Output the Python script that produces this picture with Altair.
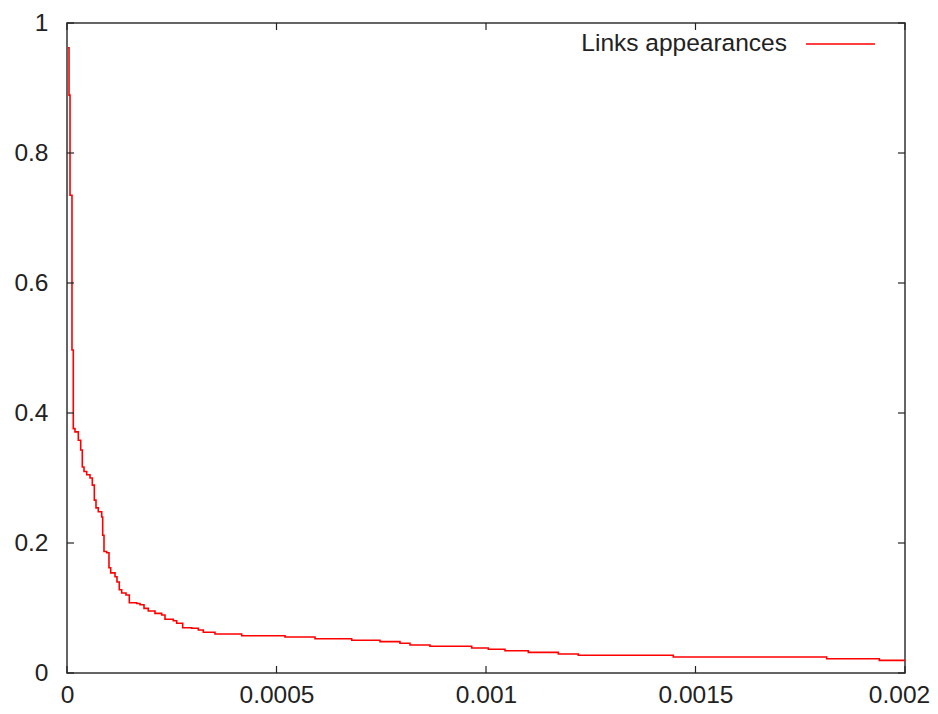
import altair as alt
import pandas as pd

series_name = ["Links appearances"]
x_ticks = [0, 0.0005, 0.001, 0.0015, 0.002]
y_ticks = [0, 0.2, 0.4, 0.6, 0.8, 1]

x_vals = [
    2.4e-6, 4.8e-6, 7.2e-6, 1.19e-5, 1.5e-5, 1.91e-5, 2.70e-5, 3.27e-5, 3.65e-5,
    4.06e-5, 4.70e-5, 5.49e-5, 6.04e-5, 6.52e-5, 6.92e-5, 7.47e-5, 8.28e-5,
    8.52e-5, 8.83e-5, 9.47e-5, 1.002e-4, 1.043e-4, 1.146e-4, 1.193e-4, 1.248e-4,
    1.305e-4, 1.408e-4, 1.487e-4, 1.663e-4, 1.742e-4, 1.838e-4, 1.940e-4,
    2.100e-4, 2.260e-4, 2.339e-4, 2.537e-4, 2.618e-4, 2.761e-4, 2.976e-4,
    3.134e-4, 3.253e-4, 3.532e-4, 4.169e-4, 5.203e-4, 5.919e-4, 6.795e-4,
    7.470e-4, 7.947e-4, 8.186e-4, 8.663e-4, 9.658e-4, 1.0055e-3, 1.0453e-3,
    1.1010e-3, 1.1726e-3, 1.2203e-3, 1.4470e-3, 1.8131e-3, 1.9387e-3, 2.0e-3,
]
y_vals = [
    0.962, 0.889, 0.735, 0.497, 0.376, 0.371, 0.358, 0.343, 0.317,
    0.310, 0.305, 0.300, 0.289, 0.266, 0.254, 0.248, 0.240,
    0.212, 0.187, 0.185, 0.162, 0.154, 0.148, 0.140, 0.128,
    0.123, 0.120, 0.108, 0.107, 0.105, 0.0995, 0.0954,
    0.0918, 0.0892, 0.0826, 0.0805, 0.0765, 0.0697, 0.0688,
    0.0662, 0.0626, 0.0600, 0.0574, 0.0554, 0.0528, 0.0503,
    0.0482, 0.0457, 0.0431, 0.0411, 0.0385, 0.0365, 0.0343,
    0.0318, 0.0292, 0.0272, 0.0246, 0.0220, 0.0195, 0.0195,
]

FONT = "Liberation Sans"
TXT = "#222222"
W, H = 838, 650

df = pd.DataFrame({"x": x_vals, "y": y_vals})
xs = alt.Scale(domain=[0, 0.002], nice=False, zero=False)
ys = alt.Scale(domain=[0, 1], nice=False, zero=False)

ax_x = alt.Axis(
    values=x_ticks, format="~g", title=None, grid=False, ticks=False,
    domain=False, labelFlush=False, labelPadding=10, labelFontSize=24.5,
    labelFont=FONT, labelColor=TXT,
    labelOffset={"condition": {"test": "datum.value >= 0.0019", "value": -6}, "value": 0},
)
ax_y = alt.Axis(
    values=y_ticks, format="~g", title=None, grid=False, ticks=False,
    domain=False, labelFlush=False, labelPadding=19, labelFontSize=24.5,
    labelFont=FONT, labelColor=TXT)

line = alt.Chart(df).mark_line(
    color="#ff0000", strokeWidth=1.6, interpolate="step-after", clip=True
).encode(
    x=alt.X("x:Q", scale=xs, axis=ax_x),
    y=alt.Y("y:Q", scale=ys, axis=ax_y),
)

ydf = pd.DataFrame({"v": y_ticks})
xdf = pd.DataFrame({"v": x_ticks})
tk = dict(color=TXT, strokeWidth=1.2)

left_t = alt.Chart(ydf).mark_rule(**tk).encode(
    y=alt.Y("v:Q", scale=ys, axis=ax_y), x=alt.value(0), x2=alt.value(7))
right_t = alt.Chart(ydf).mark_rule(**tk).encode(
    y=alt.Y("v:Q", scale=ys, axis=ax_y), x=alt.value(W - 7), x2=alt.value(W))
bottom_t = alt.Chart(xdf).mark_rule(**tk).encode(
    x=alt.X("v:Q", scale=xs, axis=ax_x), y=alt.value(H - 7), y2=alt.value(H))
top_t = alt.Chart(xdf).mark_rule(**tk).encode(
    x=alt.X("v:Q", scale=xs, axis=ax_x), y=alt.value(0), y2=alt.value(7))

ldf = pd.DataFrame({"name": series_name})
leg_text = alt.Chart(ldf).mark_text(
    align="right", baseline="middle", fontSize=24.5, font=FONT, color=TXT
).encode(text="name:N", x=alt.value(720), y=alt.value(21))
leg_line = alt.Chart(ldf).mark_rule(color="#ff0000", strokeWidth=1.5).encode(
    x=alt.value(739), x2=alt.value(808), y=alt.value(21))

chart = alt.layer(line, left_t, right_t, bottom_t, top_t, leg_text, leg_line).properties(
    width=W, height=H,
    autosize=alt.AutoSizeParams(type="none"),
    padding={"left": 59, "top": 15, "right": 25, "bottom": 33},
    background="white",
).configure_view(stroke="#333333", strokeWidth=1.5)

chart.save("out.html", embed_options={"renderer": "svg", "actions": False})
